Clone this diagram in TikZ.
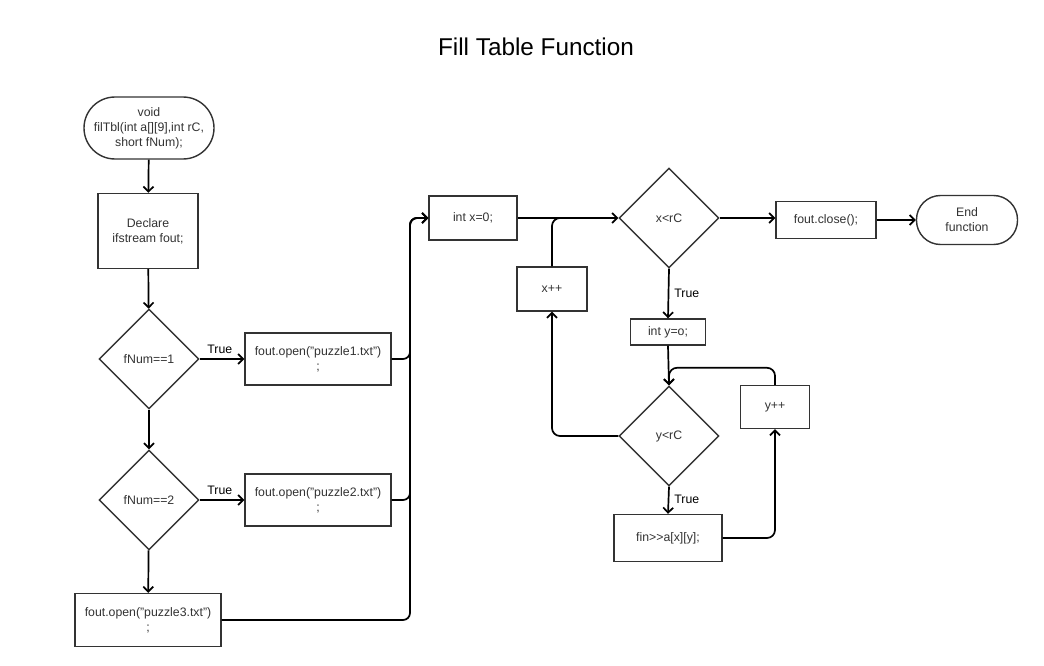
\documentclass[tikz,border=0pt]{standalone}
\usepackage{fontspec}
\setmainfont{Liberation Sans}
\usetikzlibrary{shapes.geometric,arrows.meta}
\definecolor{edgegray}{HTML}{333333}
\definecolor{txtgray}{HTML}{333333}
\begin{document}
\begin{tikzpicture}[x=1pt,y=-1pt,
  base/.style={draw=edgegray, line width=1.4pt, text=txtgray, align=center,
    font=\fontsize{12.3}{15}\selectfont, inner sep=0pt, fill=white},
  proc/.style={base, rectangle, minimum width=#1},
  dec/.style={base, diamond, aspect=1, minimum width=100pt, minimum height=100pt},
  term/.style={base, rectangle},
  arr/.style={draw=black, line width=1.7pt, -{Straight Barb[length=5pt,width=10pt,line width=1.7pt]}},
  plain/.style={draw=black, line width=1.7pt},
  lbl/.style={text=black, font=\fontsize{12.3}{14}\selectfont, inner sep=2pt}
]
\useasboundingbox (0,0) rectangle (1044,666);
\node[text=black, font=\fontsize{24.3}{28}\selectfont] (title) at (536,47) {Fill Table Function};

\node[term, minimum width=130pt, minimum height=62pt, rounded corners=31pt] (start) at (149,128) {void\\filTbl(int a[][9],int rC,\\short fNum);};
\node[proc=100pt, minimum height=75pt] (decl) at (148,231) {Declare\\ifstream fout;};
\node[dec] (d1) at (149,359) {fNum==1};
\node[dec] (d2) at (149,500) {fNum==2};
\node[proc=146pt, minimum height=52pt] (p1) at (318,359) {fout.open("puzzle1.txt")\\;};
\node[proc=146pt, minimum height=52pt] (p2) at (318,500) {fout.open("puzzle2.txt")\\;};
\node[proc=146pt, minimum height=53pt] (p3) at (148,620) {fout.open("puzzle3.txt")\\;};
\node[proc=88pt, minimum height=44pt] (ix) at (473,218) {int x=0;};
\node[dec] (dx) at (669,218) {x<rC};
\node[proc=100pt, minimum height=37pt] (close) at (826,220) {fout.close();};
\node[term, minimum width=101pt, minimum height=49pt, rounded corners=24pt] (endf) at (967,220) {End\\function};
\node[proc=70pt, minimum height=44pt] (xpp) at (552,289) {x++};
\node[proc=75pt, minimum height=26pt] (iy) at (668,332) {int y=o;};
\node[dec] (dy) at (669,436) {y<rC};
\node[proc=69pt, minimum height=43pt] (ypp) at (775,407) {y++};
\node[proc=108pt, minimum height=47pt] (fin) at (668,538) {fin>{}>a[x][y];};

\coordinate (bus) at (410,0);

\draw[arr] (start) -- (decl);
\draw[arr] (decl) -- (d1);
\draw[arr] (d1) -- (d2);
\draw[arr] (d2) -- (p3);
\draw[arr] (d1) -- node[lbl, above=3pt, pos=0.45] {True} (p1);
\draw[arr] (d2) -- node[lbl, above=3pt, pos=0.45] {True} (p2);
\draw[arr, rounded corners=7pt] (p1.east) -- (p1.east -| bus) -- (ix.west -| bus) -- (ix.west);
\draw[arr, rounded corners=7pt] (p2.east) -- (p2.east -| bus) -- (ix.west -| bus) -- (ix.west);
\draw[arr, rounded corners=7pt] (p3.east) -- (p3.east -| bus) -- (ix.west -| bus) -- (ix.west);
\draw[arr] (ix) -- (dx);
\draw[plain, rounded corners=8pt] (xpp.north) |- ([xshift=30pt]xpp.north |- ix.east);
\draw[arr] (dx.east) -- (dx.east -| close.west);
\draw[arr] (close.east) -- (close.east -| endf.west);
\draw[arr] (dx.south) -- node[lbl, right=3pt, pos=0.5] {True} (iy.north);
\draw[arr] (iy.south) -- (dy.north);
\draw[arr, rounded corners=8pt] (dy.west) -| (xpp.south);
\draw[arr] (dy.south) -- node[lbl, right=3pt, pos=0.45] {True} (fin.north);
\draw[arr, rounded corners=8pt] (fin.east) -| (ypp.south);
\draw[arr, rounded corners=8pt] (ypp.north) -- ([yshift=17pt]ypp.north) -| (dy.north);
\end{tikzpicture}
\end{document}
